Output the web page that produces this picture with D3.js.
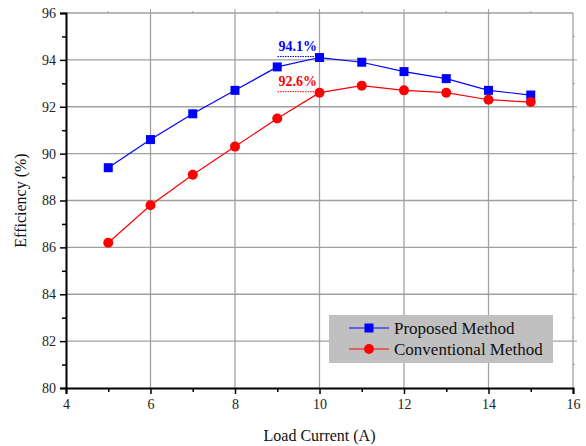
<!DOCTYPE html>
<html>
<head>
<meta charset="utf-8">
<script src="https://cdn.jsdelivr.net/npm/d3@7"></script>
<style>
  body { margin: 0; background: #fff; }
  svg { display: block; }
</style>
</head>
<body>
<svg id="chart" width="586" height="446"></svg>
<script>
// Load current (A)
const loadCurrent = [5, 6, 7, 8, 9, 10, 11, 12, 13, 14, 15];
// Efficiency (%) for each method
const proposed     = [89.4, 90.6, 91.7, 92.7, 93.7, 94.1, 93.9, 93.5, 93.2, 92.7, 92.5];
const conventional = [86.2, 87.8, 89.1, 90.3, 91.5, 92.6, 92.9, 92.7, 92.6, 92.3, 92.2];
const xTicks = [4, 6, 8, 10, 12, 14, 16];
const yTicks = [80, 82, 84, 86, 88, 90, 92, 94, 96];
// Peak annotations
const peaks = [
  { label: "94.1%", x: 10, y: 94.1, color: "#0000ff" },
  { label: "92.6%", x: 10, y: 92.6, color: "#ff0000" }
];

const FONT = "'Liberation Serif', 'Times New Roman', Times, 'DejaVu Serif', serif";
const svg = d3.select("#chart").style("font-family", FONT);
const m = { left: 66, right: 13, top: 13, bottom: 58 };
const W = 586, H = 446;
const x = d3.scaleLinear().domain([4, 16]).range([m.left, W - m.right]);
const y = d3.scaleLinear().domain([80, 96]).range([H - m.bottom, m.top]);

// grid
const grid = svg.append("g").attr("stroke", "#a0a0a0").attr("stroke-width", 1.3);
xTicks.slice(1, -1).forEach(t => grid.append("line")
  .attr("x1", x(t)).attr("x2", x(t)).attr("y1", y(80)).attr("y2", y(96)));
yTicks.slice(1).forEach(t => grid.append("line")
  .attr("x1", x(4)).attr("x2", x(16)).attr("y1", y(t)).attr("y2", y(t)));
grid.append("line").attr("x1", x(16)).attr("x2", x(16)).attr("y1", y(80)).attr("y2", y(96));

// top and right ticks on the gray frame
const frameTicks = svg.append("g").attr("stroke", "#a0a0a0").attr("stroke-width", 1);
d3.range(5, 16, 1).forEach(v => frameTicks.append("line")
  .attr("x1", x(v)).attr("x2", x(v)).attr("y1", y(96)).attr("y2", y(96) - (v % 2 ? 2 : 4)));
d3.range(81, 96, 1).forEach(v => frameTicks.append("line")
  .attr("x1", x(16)).attr("x2", x(16) + (v % 2 ? 2 : 4)).attr("y1", y(v)).attr("y2", y(v)));

// bottom axis
const xAxis = svg.append("g")
  .attr("transform", `translate(0,${y(80)})`)
  .call(d3.axisBottom(x).tickValues(xTicks).tickSize(6).tickPadding(5).tickFormat(d3.format("d")));
xAxis.attr("font-family", null);
xAxis.select(".domain").attr("stroke", "#000").attr("stroke-width", 2);
xAxis.selectAll(".tick line").attr("stroke-width", 1.5);
xAxis.selectAll("text").attr("font-size", 14).attr("fill", "#222").style("font-family", FONT);
const xMinor = svg.append("g")
  .attr("transform", `translate(0,${y(80)})`)
  .call(d3.axisBottom(x).tickValues(d3.range(5, 16, 2)).tickSize(4).tickFormat(""));
xMinor.select(".domain").remove();
xMinor.selectAll(".tick line").attr("stroke-width", 1.5);

// left axis
const yAxis = svg.append("g")
  .attr("transform", `translate(${x(4)},0)`)
  .call(d3.axisLeft(y).tickValues(yTicks).tickSize(6).tickPadding(4).tickFormat(d3.format("d")));
yAxis.attr("font-family", null);
yAxis.select(".domain").attr("stroke", "#000").attr("stroke-width", 2);
yAxis.selectAll(".tick line").attr("stroke-width", 1.5);
yAxis.selectAll("text").attr("font-size", 14).attr("fill", "#222").style("font-family", FONT);
const yMinor = svg.append("g")
  .attr("transform", `translate(${x(4)},0)`)
  .call(d3.axisLeft(y).tickValues(d3.range(81, 96, 2)).tickSize(4).tickFormat(""));
yMinor.select(".domain").remove();
yMinor.selectAll(".tick line").attr("stroke-width", 1.5);

// axis titles
svg.append("text").attr("x", (x(4) + x(16)) / 2).attr("y", 441)
  .attr("text-anchor", "middle").attr("font-size", 16).attr("fill", "#111")
  .style("font-family", FONT).text("Load Current (A)");
svg.append("text").attr("transform", `translate(26,${(y(80) + y(96)) / 2}) rotate(-90)`)
  .attr("text-anchor", "middle").attr("font-size", 16).attr("fill", "#111")
  .style("font-family", FONT).text("Efficiency (%)");

// series
const series = [
  { name: "Proposed Method", values: proposed, color: "#0000ff", shape: "square" },
  { name: "Conventional Method", values: conventional, color: "#ff0000", shape: "circle" }
];
const line = d3.line().x(d => x(d[0])).y(d => y(d[1]));
function drawMarker(g, shape, color, cx, cy) {
  if (shape === "square") {
    g.append("rect").attr("x", cx - 4.5).attr("y", cy - 4.5).attr("width", 9).attr("height", 9).attr("fill", color);
  } else {
    g.append("circle").attr("cx", cx).attr("cy", cy).attr("r", 5).attr("fill", color);
  }
}
series.forEach(s => {
  const pts = loadCurrent.map((c, i) => [c, s.values[i]]);
  svg.append("path").datum(pts).attr("d", line)
    .attr("fill", "none").attr("stroke", s.color).attr("stroke-width", 1.2);
  const g = svg.append("g");
  pts.forEach(p => drawMarker(g, s.shape, s.color, x(p[0]), y(p[1])));
});

// peak annotations
peaks.forEach(p => {
  svg.append("line")
    .attr("x1", x(p.x) - 42).attr("x2", x(p.x)).attr("y1", y(p.y) - 1).attr("y2", y(p.y) - 1)
    .attr("stroke", p.color).attr("stroke-width", 1).attr("stroke-dasharray", "1.5,1");
  svg.append("text").attr("x", x(p.x) - 41).attr("y", y(p.y) - 7)
    .attr("font-size", 14).attr("font-weight", "bold").attr("fill", p.color)
    .style("font-family", FONT).text(p.label);
});

// legend
const lg = svg.append("g").attr("transform", "translate(329,315)");
lg.append("rect").attr("width", 224).attr("height", 48).attr("fill", "#c0c0c0");
series.forEach((s, i) => {
  const cy = 13 + i * 21;
  lg.append("line").attr("x1", 20).attr("x2", 60).attr("y1", cy).attr("y2", cy)
    .attr("stroke", s.color).attr("stroke-width", 1.2);
  drawMarker(lg, s.shape, s.color, 40, cy);
  lg.append("text").attr("x", 65).attr("y", cy + 5.5).attr("font-size", 17).attr("fill", "#111")
    .style("font-family", FONT).text(s.name);
});
</script>
</body>
</html>
